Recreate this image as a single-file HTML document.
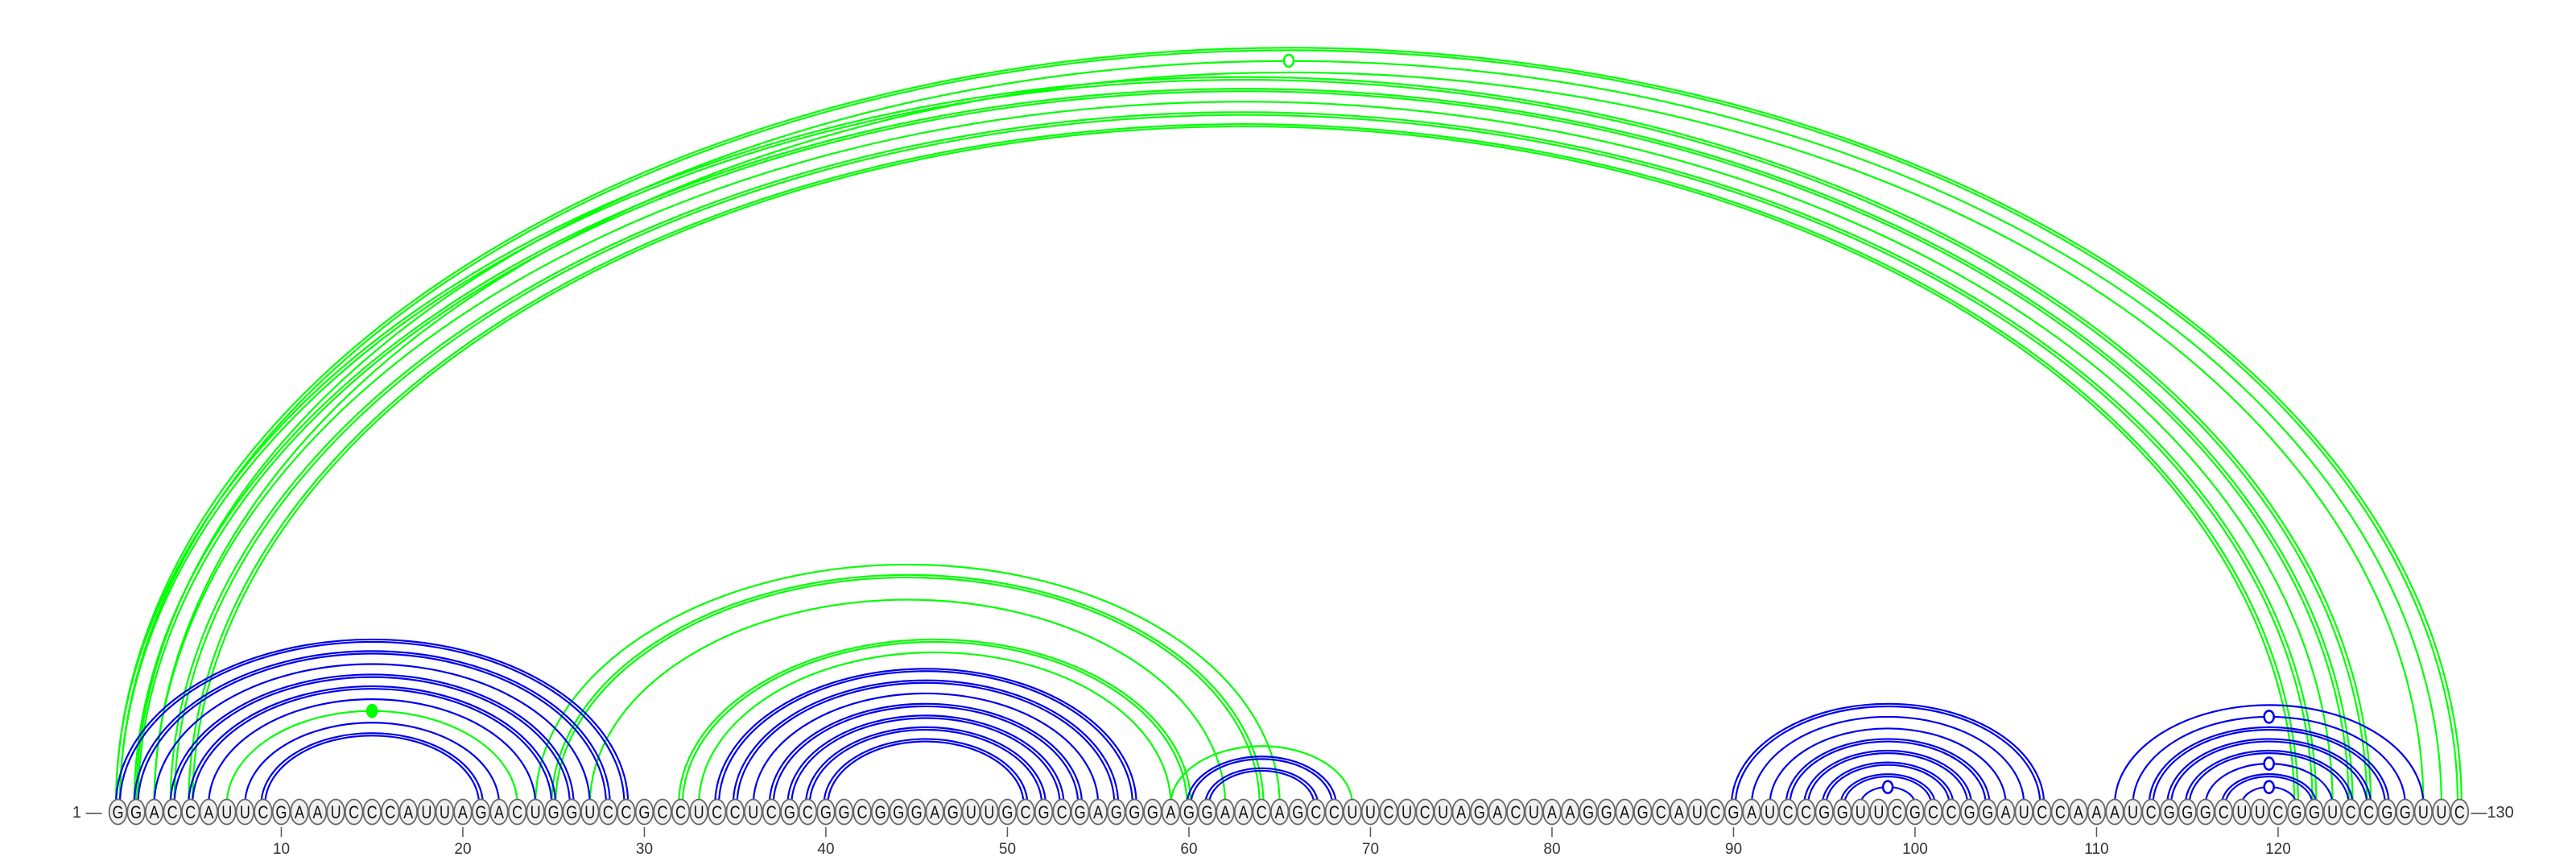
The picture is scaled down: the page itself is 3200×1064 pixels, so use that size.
<!DOCTYPE html>
<html><head><meta charset="utf-8"><style>
html,body{margin:0;padding:0;background:#fff;}
svg{display:block;}
</style></head><body>
<svg id="chart" width="3200" height="1064" viewBox="0 0 3200 1064" xmlns="http://www.w3.org/2000/svg"></svg>
<script>
const sequence = "GGACCAUUCGAAUCCCAUUAGACUGGUCCGCCUCCUCGCGGCGGGAGUUGCGCGAGGGAGGAACAGCCUUCUCUAGACUAAGGAGCAUCGAUCCGGUUCGCCGGAUCCAAAUCGGGCUUCGGUCCGGUUC";
const tickValues = [10,20,30,40,50,60,70,80,90,100,110,120];
// blue helices (secondary structure)
const blueI = [1,2,3,4,5,6,8,9, 34,35,36,37,38,39,40, 60,61, 90,91,92,93,94,95,96,97, 111,112,113,114,115,116,117,118];
const blueJ = [29,28,27,26,25,24,22,21, 57,56,55,54,53,52,51, 68,67, 107,106,105,104,103,102,101,100, 128,127,126,125,124,123,122,121];
const blueDouble = [1,1,0,1,1,0,0,1, 1,1,0,1,1,1,1, 1,1, 1,0,0,1,1,1,1,0, 0,0,1,1,1,0,1,0];
const blueDot = [0,0,0,0,0,0,0,0, 0,0,0,0,0,0,0, 0,0, 0,0,0,0,0,0,0,1, 0,1,0,0,0,1,0,1];
// green arcs (pseudoknots / alternative pairs)
const greenI = [7, 24,25,27, 32,33, 59, 1,2,3,1,2,3,4,5];
const greenJ = [23, 65,64,62, 60,59, 69, 130,129,128,125,124,123,122,121];
const greenDouble = [0, 0,1,0, 1,0, 0, 1,0,0,1,1,0,1,1];
const greenDot = [2, 0,0,0, 0,0, 0, 0,1,0,0,0,0,0,0];

const svg = document.getElementById('chart');
const NS = "http://www.w3.org/2000/svg";
const X0 = 146.5, STEP = 22.55, ARC_Y = 999, BASE_Y = 1008, K = 0.645;
function xOf(n){ return X0 + (n-1)*STEP; }
function mk(tag, attrs){ const e = document.createElementNS(NS, tag); for (const k in attrs) e.setAttribute(k, attrs[k]); return e; }

const arcsG = mk('g', {});   svg.appendChild(arcsG);

function drawArc(i, j, color, dbl, dot, name){
  const cx = (xOf(i)+xOf(j))/2, hw = (xOf(j)-xOf(i))/2;
  const offs = dbl ? [-2.4, 2.4] : [0];
  offs.forEach(o => {
    const r = hw + o, h = K*r;
    const p = mk('path', {d:`M ${cx-r} ${ARC_Y} A ${r} ${h} 0 0 1 ${cx+r} ${ARC_Y}`, fill:'none', stroke:color, 'stroke-width':2.2});
    
    
    arcsG.appendChild(p);
  });
  if (dot) {
    const ty = ARC_Y - K*hw;
    const c = mk('ellipse', {cx:cx, cy:ty, rx:6, ry:7.5, fill: dot===2 ? color : '#fff', stroke:color, 'stroke-width':2.6});
    
    
    arcsG.appendChild(c);
  }
}
for (let k=0;k<greenI.length;k++) drawArc(greenI[k], greenJ[k], '#00ff00', greenDouble[k], greenDot[k], 'green-arc');
for (let k=0;k<blueI.length;k++) drawArc(blueI[k], blueJ[k], '#0000ee', blueDouble[k], blueDot[k], 'blue-arc');

const basesG = mk('g', {});   svg.appendChild(basesG);
for (let n=1;n<=sequence.length;n++){
  const x = xOf(n);
  const e = mk('ellipse', {cx:x, cy:BASE_Y, rx:10.8, ry:15.5, fill:'#f0f0f0', stroke:'#666', 'stroke-width':1.8});
  
  
  basesG.appendChild(e);
  const t = mk('text', {x:x, y:BASE_Y+8, 'text-anchor':'middle', 'font-family':'Liberation Sans, sans-serif', 'font-size':22, fill:'#111', transform:`translate(${x} 0) scale(0.82 1) translate(${-x} 0)`});
  t.textContent = sequence[n-1];
  
  
  basesG.appendChild(t);
}
tickValues.forEach(v => {
  const x = xOf(v);
  const l = mk('line', {x1:x, x2:x, y1:1027, y2:1039, stroke:'#555', 'stroke-width':1.5});
  
  
  svg.appendChild(l);
  const t = mk('text', {x:x, y:1060, 'text-anchor':'middle', 'font-family':'Liberation Sans, sans-serif', 'font-size':19, fill:'#333'});
  t.textContent = v;
  
  
  svg.appendChild(t);
});
const s = mk('text', {x:xOf(1)-20, y:BASE_Y+7, 'text-anchor':'end', 'font-family':'Liberation Sans, sans-serif', 'font-size':20, fill:'#333'});
s.textContent = '1 —';


svg.appendChild(s);
const en = mk('text', {x:xOf(130)+14, y:BASE_Y+7, 'text-anchor':'start', 'font-family':'Liberation Sans, sans-serif', 'font-size':20, fill:'#333'});
en.textContent = '—130';


svg.appendChild(en);
</script>
</body></html>
